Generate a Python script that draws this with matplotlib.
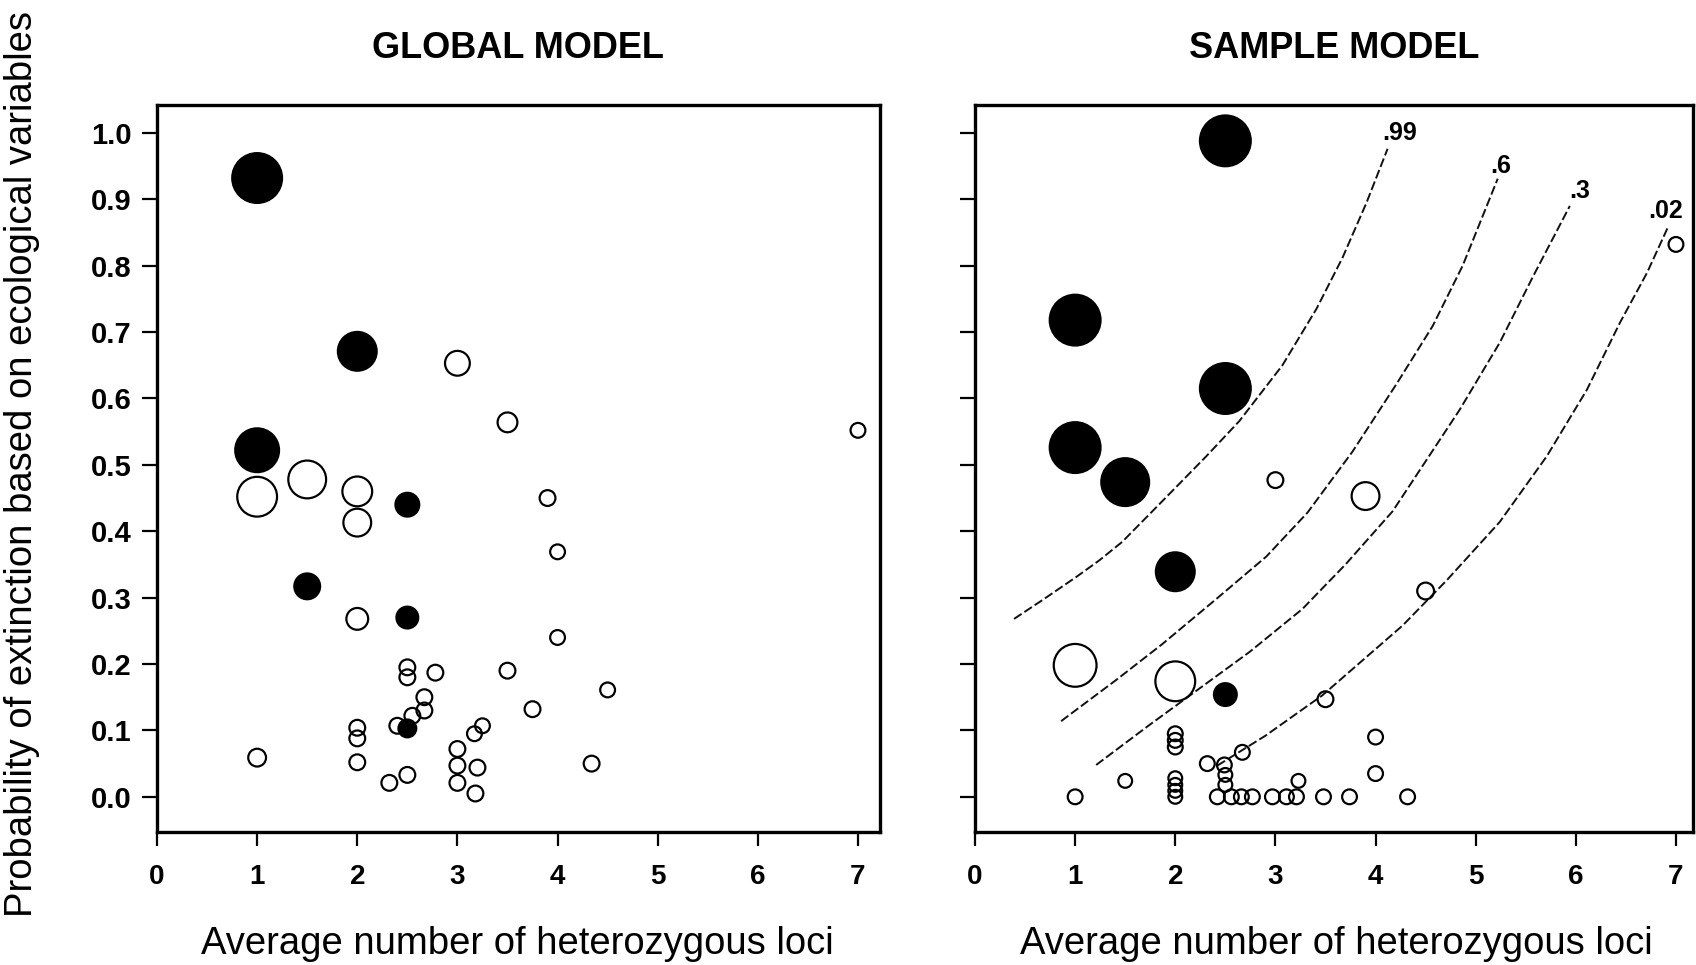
import matplotlib
matplotlib.use("Agg")
import matplotlib.pyplot as plt
from matplotlib import font_manager

# ---------------- data ----------------
# GLOBAL MODEL: x = average number of heterozygous loci, y = probability of extinction
global_x = [1, 2, 3, 3.5, 7, 1, 1.5, 1, 2, 3.9, 2.5, 2, 4.0, 1.5, 2, 2.5, 4.0,
            2.5, 2.5, 2.78, 3.5, 4.5, 2.67, 2.67, 2.55, 3.75, 2.4, 2.5, 2, 2, 2,
            1, 3.25, 3.17, 3, 3, 3.2, 3, 3.18, 2.32, 2.5, 4.34]
global_y = [0.932, 0.671, 0.653, 0.564, 0.552, 0.522, 0.478, 0.452, 0.46, 0.45,
            0.44, 0.413, 0.369, 0.317, 0.268, 0.27, 0.24, 0.195, 0.18, 0.187,
            0.19, 0.161, 0.15, 0.13, 0.122, 0.132, 0.107, 0.103, 0.104, 0.088,
            0.052, 0.059, 0.107, 0.095, 0.072, 0.047, 0.044, 0.021, 0.005,
            0.021, 0.033, 0.05]
# bubble size (radius, relative units) and extinct flag (1 = extinct, filled)
global_size = [26, 20.5, 13.5, 11, 8.5, 23, 20, 21, 16, 9, 13, 15, 8.5, 14, 12,
               12, 8.5, 9, 9, 9, 9, 8.5, 9, 9, 9, 9, 9, 10, 9, 9, 9, 10, 8.5, 8.5,
               9, 9, 9, 9, 9, 9, 9, 9]
global_extinct = [1, 1, 0, 0, 0, 1, 0, 0, 0, 0, 1, 0, 0, 1, 0, 1, 0, 0, 0, 0, 0,
                  0, 0, 0, 0, 0, 0, 1, 0, 0, 0, 0, 0, 0, 0, 0, 0, 0, 0, 0, 0, 0]

# SAMPLE MODEL
sample_x = [2.5, 1, 2.5, 1, 1.5, 3, 3.9, 2, 4.5, 1, 2, 2.5, 3.5, 4, 4, 2, 2, 2,
            2, 2, 2, 2, 1.5, 1, 2.32, 2.49, 2.67, 2.5, 2.5,
            2.42, 2.56, 2.66, 2.77, 2.97, 3.11, 3.21, 3.48, 3.74, 4.32, 3.23, 7]
sample_y = [0.988, 0.718, 0.615, 0.526, 0.474, 0.477, 0.453, 0.339, 0.31, 0.198,
            0.174, 0.154, 0.147, 0.09, 0.035, 0.095, 0.085, 0.075, 0.028, 0.018,
            0.009, 0.0, 0.024, 0.0, 0.05, 0.048, 0.067, 0.033, 0.018,
            0.0, 0.0, 0.0, 0.0, 0.0, 0.0, 0.0, 0.0, 0.0, 0.0, 0.024, 0.832]
sample_size = [26.5, 26.5, 26.5, 26.5, 25, 9, 15, 20.5, 9.5, 22.5, 21, 12.5, 9,
               8.5, 8.5, 8.5, 8.5, 8.5, 8, 8, 8, 8, 8, 8.5, 8.5, 8.5, 8.5, 8, 8,
               8.5, 8.5, 8.5, 8.5, 8.5, 8.5, 8.5, 8.5, 8.5, 8.5, 8, 8.5]
sample_extinct = [1, 1, 1, 1, 1, 0, 0, 1, 0, 0, 0, 1, 0, 0, 0, 0, 0, 0, 0, 0, 0,
                  0, 0, 0, 0, 0, 0, 0, 0, 0, 0, 0, 0, 0, 0, 0, 0, 0, 0, 0, 0]

# iso-probability contour lines of the sample model
contour_labels = [".99", ".6", ".3", ".02"]
c99_x = [0.39, 0.67, 1.01, 1.24, 1.47, 1.81, 2.31, 2.64, 3.07, 3.41, 3.67, 3.91, 4.12]
c99_y = [0.268, 0.296, 0.331, 0.356, 0.384, 0.436, 0.513, 0.566, 0.650, 0.735, 0.812, 0.895, 0.976]
c6_x = [0.86, 1.41, 1.87, 2.41, 2.91, 3.32, 3.77, 4.21, 4.57, 4.87, 5.22]
c6_y = [0.114, 0.176, 0.230, 0.298, 0.362, 0.428, 0.520, 0.622, 0.709, 0.80, 0.931]
c3_x = [1.21, 1.74, 2.24, 2.74, 3.27, 3.70, 4.17, 4.84, 5.24, 5.57, 5.94]
c3_y = [0.048, 0.108, 0.163, 0.218, 0.283, 0.350, 0.430, 0.583, 0.684, 0.783, 0.89]
c02_x = [2.42, 2.9, 3.47, 4.27, 4.71, 5.24, 5.71, 6.11, 6.44, 6.71, 6.92]
c02_y = [0.047, 0.092, 0.153, 0.258, 0.326, 0.414, 0.513, 0.613, 0.714, 0.789, 0.858]
label_x = [4.24, 5.25, 6.04, 6.9]
label_y = [1.0, 0.95, 0.913, 0.883]

x_ticks = [0, 1, 2, 3, 4, 5, 6, 7]
y_ticks = [0.0, 0.1, 0.2, 0.3, 0.4, 0.5, 0.6, 0.7, 0.8, 0.9, 1.0]
y_ticklabels = ["0.0", "0.1", "0.2", "0.3", "0.4", "0.5", "0.6", "0.7", "0.8", "0.9", "1.0"]
titles = ["GLOBAL MODEL", "SAMPLE MODEL"]
xlabel = "Average number of heterozygous loci"
ylabel = "Probability of extinction based on ecological variables"

# ---------------- style ----------------
names = {f.name for f in font_manager.fontManager.ttflist}
base = "Liberation Sans" if "Liberation Sans" in names else "DejaVu Sans"
plt.rcParams["font.family"] = [base, "DejaVu Sans"]
plt.rcParams["lines.scale_dashes"] = False

W, H, DPI = 1696, 965, 100
fig = plt.figure(figsize=(W / DPI, H / DPI), dpi=DPI)

ax1 = fig.add_axes([157 / W, 1 - 832 / H, 723 / W, 727 / H])
ax2 = fig.add_axes([975 / W, 1 - 832 / H, 718 / W, 727 / H])

EDGE_PX = 2.2


def radius_to_s(r):
    d_pt = (2 * r - EDGE_PX) * 72 / DPI
    return d_pt ** 2


def draw_points(ax, xs, ys, sizes, extinct):
    ox = [x for x, e in zip(xs, extinct) if not e]
    oy = [y for y, e in zip(ys, extinct) if not e]
    os_ = [radius_to_s(r) for r, e in zip(sizes, extinct) if not e]
    fx = [x for x, e in zip(xs, extinct) if e]
    fy = [y for y, e in zip(ys, extinct) if e]
    fs = [radius_to_s(r) for r, e in zip(sizes, extinct) if e]
    ax.scatter(ox, oy, s=os_, facecolors="none", edgecolors="black",
               linewidths=EDGE_PX * 72 / DPI, zorder=3, clip_on=False)
    ax.scatter(fx, fy, s=fs, facecolors="black", edgecolors="black",
               linewidths=EDGE_PX * 72 / DPI, zorder=4, clip_on=False)


def style_axes(ax, xmax, show_ylabels):
    ax.set_xlim(0, xmax)
    ax.set_ylim(-0.053, 1.042)
    ax.set_xticks(x_ticks)
    ax.set_xticklabels([str(t) for t in x_ticks], fontsize=20, fontweight="bold")
    ax.set_yticks(y_ticks)
    if show_ylabels:
        ax.set_yticklabels(y_ticklabels, fontsize=21, fontweight="bold")
    else:
        ax.set_yticklabels([])
    ax.tick_params(axis="x", direction="out", length=10, width=1.6, pad=13)
    ax.tick_params(axis="y", direction="out", length=11, width=1.6, pad=7)
    for sp in ax.spines.values():
        sp.set_linewidth(2.4)
        sp.set_color("black")


draw_points(ax1, global_x, global_y, global_size, global_extinct)
style_axes(ax1, 7.22, True)

contours = [(c99_x, c99_y), (c6_x, c6_y), (c3_x, c3_y), (c02_x, c02_y)]
for (cx, cy) in contours:
    ax2.plot(cx, cy, color="#111111", lw=1.4, dashes=(6.5, 2.4), zorder=2,
             solid_joinstyle="round")
for lab, lx, ly in zip(contour_labels, label_x, label_y):
    ax2.text(lx, ly, lab, fontsize=18, fontweight="bold", ha="center", va="center")
draw_points(ax2, sample_x, sample_y, sample_size, sample_extinct)
style_axes(ax2, 7.17, False)

for t, cx in zip(titles, [518, 1334]):
    fig.text(cx / W, 1 - 48 / H, t, fontsize=26, fontweight="bold",
             ha="center", va="center")
for cx in [517, 1336]:
    fig.text(cx / W, 1 - 944 / H, xlabel, fontsize=27.5, ha="center", va="center")
fig.text(22 / W, 1 - 464 / H, ylabel, fontsize=27.5, rotation=90,
         ha="center", va="center")

fig.savefig("out.png", dpi=DPI, facecolor="white")
